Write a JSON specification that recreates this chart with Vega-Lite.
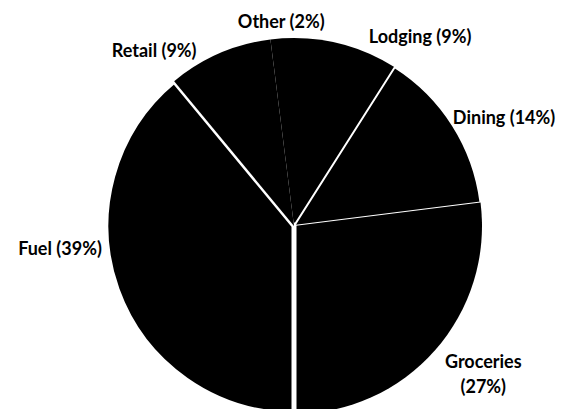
{
  "$schema": "https://vega.github.io/schema/vega-lite/v6.json",
  "autosize": {"type": "none"},
  "width": 400,
  "height": 400,
  "padding": {"left": 94, "top": 26, "right": 76, "bottom": 0},
  "background": "white",
  "data": {
    "values": [
      {"rank": 1, "category": "Lodging", "pct": 9, "label": "Lodging (9%)"},
      {"rank": 2, "category": "Dining", "pct": 14, "label": "Dining (14%)"},
      {"rank": 3, "category": "Groceries", "pct": 27, "label": "Groceries\n(27%)"},
      {"rank": 4, "category": "Fuel", "pct": 39, "label": "Fuel (39%)"},
      {"rank": 5, "category": "Retail", "pct": 9, "label": "Retail (9%)"},
      {"rank": 6, "category": "Other", "pct": 2, "label": "Other (2%)"}
    ]
  },
  "encoding": {
    "theta": {"field": "pct", "type": "quantitative", "stack": true},
    "order": {"field": "rank", "type": "quantitative", "sort": "ascending"}
  },
  "layer": [
    {
      "mark": {"type": "arc", "outerRadius": 188, "fill": "black", "stroke": "white"},
      "encoding": {
        "strokeWidth": {
          "condition": [
            {"test": "datum.category === 'Fuel'", "value": 5},
            {"test": "datum.category === 'Dining'", "value": 2}
          ],
          "value": 0
        }
      }
    },
    {
      "mark": {"type": "text", "radius": 203, "align": "center", "baseline": "middle", "font": "Lato", "fontWeight": "bold", "fontSize": 18, "color": "black", "lineBreak": "\n"},
      "encoding": {
        "text": {"condition": {"test": "datum.category === 'Other'", "field": "label"}, "value": ""}
      }
    },
    {
      "mark": {"type": "text", "radius": 200, "dx": 19, "dy": 4, "align": "left", "baseline": "middle", "font": "Lato", "fontWeight": "bold", "fontSize": 18, "color": "black", "lineBreak": "\n"},
      "encoding": {
        "text": {"condition": {"test": "datum.category === 'Lodging'", "field": "label"}, "value": ""}
      }
    },
    {
      "mark": {"type": "text", "radius": 200, "dx": -10, "align": "left", "baseline": "middle", "font": "Lato", "fontWeight": "bold", "fontSize": 18, "color": "black", "lineBreak": "\n"},
      "encoding": {
        "text": {"condition": {"test": "datum.category === 'Dining'", "field": "label"}, "value": ""}
      }
    },
    {
      "mark": {"type": "text", "radius": 207, "dx": 34, "align": "center", "baseline": "middle", "font": "Lato", "fontWeight": "bold", "fontSize": 18, "lineHeight": 25, "color": "black", "lineBreak": "\n"},
      "encoding": {
        "text": {"condition": {"test": "datum.category === 'Groceries'", "field": "label"}, "value": ""}
      }
    },
    {
      "mark": {"type": "text", "radius": 200, "dx": -4, "dy": -44, "align": "right", "baseline": "middle", "font": "Lato", "fontWeight": "bold", "fontSize": 18, "color": "black", "lineBreak": "\n"},
      "encoding": {
        "text": {"condition": {"test": "datum.category === 'Fuel'", "field": "label"}, "value": ""}
      }
    },
    {
      "mark": {"type": "text", "radius": 200, "dx": -18, "dy": 10, "align": "right", "baseline": "middle", "font": "Lato", "fontWeight": "bold", "fontSize": 18, "color": "black", "lineBreak": "\n"},
      "encoding": {
        "text": {"condition": {"test": "datum.category === 'Retail'", "field": "label"}, "value": ""}
      }
    }
  ],
  "config": {"view": {"stroke": null}}
}
